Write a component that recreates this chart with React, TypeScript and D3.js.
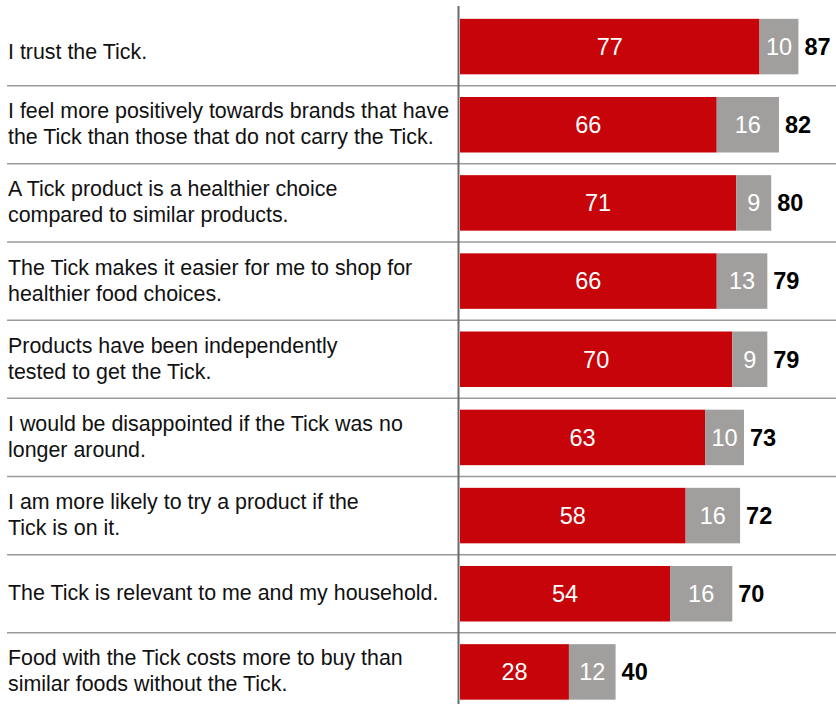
import React from "react";
import * as d3 from "d3";

const statements: string[][] = [
  ["I trust the Tick."],
  ["I feel more positively towards brands that have", "the Tick than those that do not carry the Tick."],
  ["A Tick product is a healthier choice", "compared to similar products."],
  ["The Tick makes it easier for me to shop for", "healthier food choices."],
  ["Products have been independently", "tested to get the Tick."],
  ["I would be disappointed if the Tick was no", "longer around."],
  ["I am more likely to try a product if the", "Tick is on it."],
  ["The Tick is relevant to me and my household."],
  ["Food with the Tick costs more to buy than", "similar foods without the Tick."],
];
const agreeStrongly: number[] = [77, 66, 71, 66, 70, 63, 58, 54, 28];
const agreeSomewhat: number[] = [10, 16, 9, 13, 9, 10, 16, 16, 12];
const totals: number[] = [87, 82, 80, 79, 79, 73, 72, 70, 40];

const W = 836;
const H = 704;
const FONT = "'Liberation Sans', Arial, Helvetica, sans-serif";
const RED = "#C70409";
const GREY = "#A09F9E";

export default function App() {
  const ids = statements.map((_, i) => String(i));
  const y = d3.scaleBand<string>().domain(ids).range([7.5, 711]).padding(0);
  const x = d3.scaleLinear().domain([0, 100]).range([460, 849]);
  const barH = 55.5;
  const lineH = 26;

  return (
    <svg
      width={W}
      height={H}
      style={{ position: "absolute", left: 0, top: 0, background: "#fff" }}
      fontFamily={FONT}
    >
      {ids.slice(1).map((id) => (
        <line
          key={"sep" + id}
          x1={7}
          x2={W}
          y1={y(id)!}
          y2={y(id)!}
          stroke="#9a9a9a"
          strokeWidth={1.5}
        />
      ))}
      <line x1={458.5} x2={458.5} y1={6} y2={H} stroke="#6b6b6b" strokeWidth={2} />
      {ids.map((id, i) => {
        const cy = y(id)! + y.bandwidth() / 2;
        const top = cy - barH / 2;
        const x0 = x(0);
        const x1 = x(agreeStrongly[i]);
        const x2 = x(totals[i]);
        const lines = statements[i];
        const n = lines.length;
        const adj = i === 0 ? 5.5 : 0;
        return (
          <g key={id}>
            {lines.map((t, j) => (
              <text
                key={j}
                x={8}
                y={cy + adj + (j - (n - 1) / 2) * lineH + 6.5}
                fontSize={21.4}
                fill="#111"
              >
                {t}
              </text>
            ))}
            <rect x={x0} y={top} width={x1 - x0} height={barH} fill={RED} />
            <rect x={x1} y={top} width={x2 - x1} height={barH} fill={GREY} />
            <text
              x={(x0 + x1) / 2}
              y={cy + 8.4}
              textAnchor="middle"
              fontSize={23.5}
              fill="#fff"
            >
              {agreeStrongly[i]}
            </text>
            <text
              x={(x1 + x2) / 2}
              y={cy + 8.4}
              textAnchor="middle"
              fontSize={23.5}
              fill="#fff"
            >
              {agreeSomewhat[i]}
            </text>
            <text
              x={x2 + 6}
              y={cy + 8.4}
              fontSize={23.5}
              fontWeight="bold"
              fill="#000"
            >
              {totals[i]}
            </text>
          </g>
        );
      })}
    </svg>
  );
}
